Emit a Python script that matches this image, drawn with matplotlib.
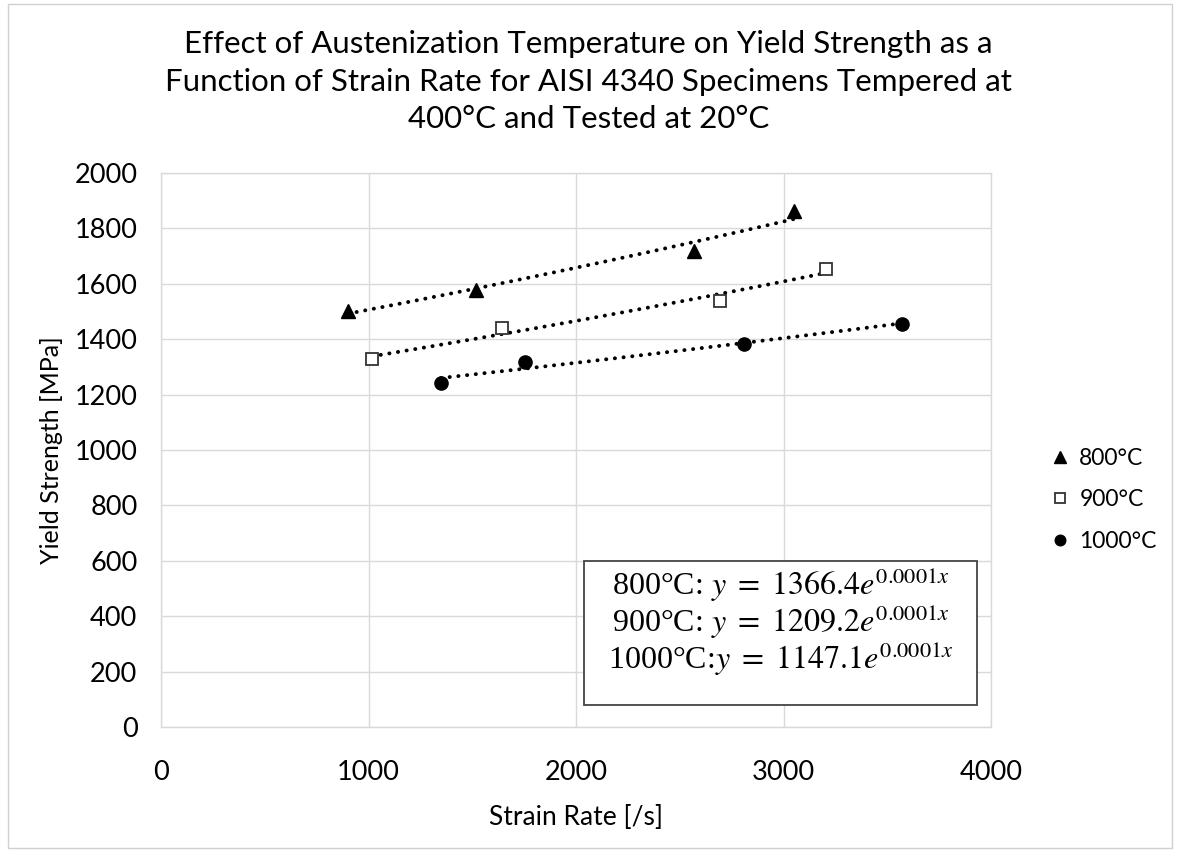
import numpy as np
import matplotlib
matplotlib.use("Agg")
import matplotlib.pyplot as plt
from matplotlib.patches import Rectangle
from matplotlib.lines import Line2D

# Measured yield strength vs strain rate for each austenitizing temperature
rate_800 = [901, 1518, 2569, 3051]
ys_800 = [1502, 1578, 1718, 1863]
rate_900 = [1017, 1643, 2694, 3205]
ys_900 = [1329, 1440, 1538, 1653]
rate_1000 = [1349, 1754, 2810, 3571]
ys_1000 = [1242, 1318, 1383, 1455]

labels = ["800°C", "900°C", "1000°C"]
fit_text = [
    r"800°C: $y\ =\ 1366.4e^{0.0001x}$",
    r"900°C: $y\ =\ 1209.2e^{0.0001x}$",
    r"1000°C:$y\ =\ 1147.1e^{0.0001x}$",
]

plt.rcParams["font.family"] = ["Lato", "DejaVu Sans"]
plt.rcParams["mathtext.fontset"] = "stix"

fig = plt.figure(figsize=(11.77, 8.52), dpi=100)
W, H = 1177, 852
ax = fig.add_axes([161 / W, 1 - 727 / H, (991 - 161) / W, (727 - 173) / H])

series = [
    (rate_800, ys_800, dict(marker="^", color="black", markersize=10)),
    (rate_900, ys_900, dict(marker="s", markerfacecolor="white", markeredgecolor="#333333",
                            markeredgewidth=1.3, markersize=9)),
    (rate_1000, ys_1000, dict(marker="o", color="black", markersize=9.5)),
]

handles = []
for (x, y, style), lab in zip(series, labels):
    x = np.asarray(x, float)
    y = np.asarray(y, float)
    # exponential trendline fitted in log space
    b, lna = np.polyfit(x, np.log(y), 1)
    xs = np.linspace(x.min(), x.max(), 100)
    ax.plot(xs, np.exp(lna) * np.exp(b * xs), color="black", lw=2.8,
            linestyle=(0, (0.05, 2.2)), dash_capstyle="round", zorder=2)
    ax.plot(x, y, linestyle="none", zorder=3, **style)
    handles.append(Line2D([], [], linestyle="none", **{**style, "markersize": style["markersize"] * 0.8}))

ax.set_xlim(0, 4000)
ax.set_ylim(0, 2000)
ax.set_xticks(np.arange(0, 4001, 1000))
ax.set_yticks(np.arange(0, 2001, 200))
ax.grid(True, color="#d9d9d9", lw=1.0)
ax.set_axisbelow(True)
for s in ax.spines.values():
    s.set_color("#d9d9d9")
    s.set_linewidth(1.0)
ax.tick_params(length=0, labelsize=19.5, colors="black")
ax.tick_params(axis="y", pad=17)
ax.tick_params(axis="x", pad=24)
ax.set_xlabel("Strain Rate [/s]", fontsize=19, labelpad=14)
ax.set_ylabel("Yield Strength [MPa]", fontsize=18, labelpad=8)

fig.suptitle("Effect of Austenization Temperature on Yield Strength as a\n"
             "Function of Strain Rate for AISI 4340 Specimens Tempered at\n"
             "400°C and Tested at 20°C",
             fontsize=22.5, y=1 - 30 / H, va="top", linespacing=1.42)

leg = fig.legend(handles, labels, loc="center left", bbox_to_anchor=(1030 / W, 1 - 500 / H),
                 frameon=False, fontsize=16.5, handlelength=0.8, handletextpad=0.45,
                 labelspacing=0.9)

# fitted equations box
box = Rectangle((584 / W, 1 - 705 / H), (977 - 584) / W, (705 - 561) / H,
                transform=fig.transFigure, facecolor="white", edgecolor="#444444",
                lw=1.3, zorder=5)
fig.add_artist(box)
for i, t in enumerate(fit_text):
    fig.text(781 / W, 1 - (585 + 37 * i) / H, t, ha="center", va="center",
             fontsize=23, family="Liberation Serif", zorder=6)

# chart border
fig.add_artist(Rectangle((8 / W, 4 / H), (1172 - 8) / W, (848 - 4) / H,
                         transform=fig.transFigure, fill=False, edgecolor="#d0d0d0", lw=1))

fig.savefig("out.png", dpi=100, facecolor="white")
